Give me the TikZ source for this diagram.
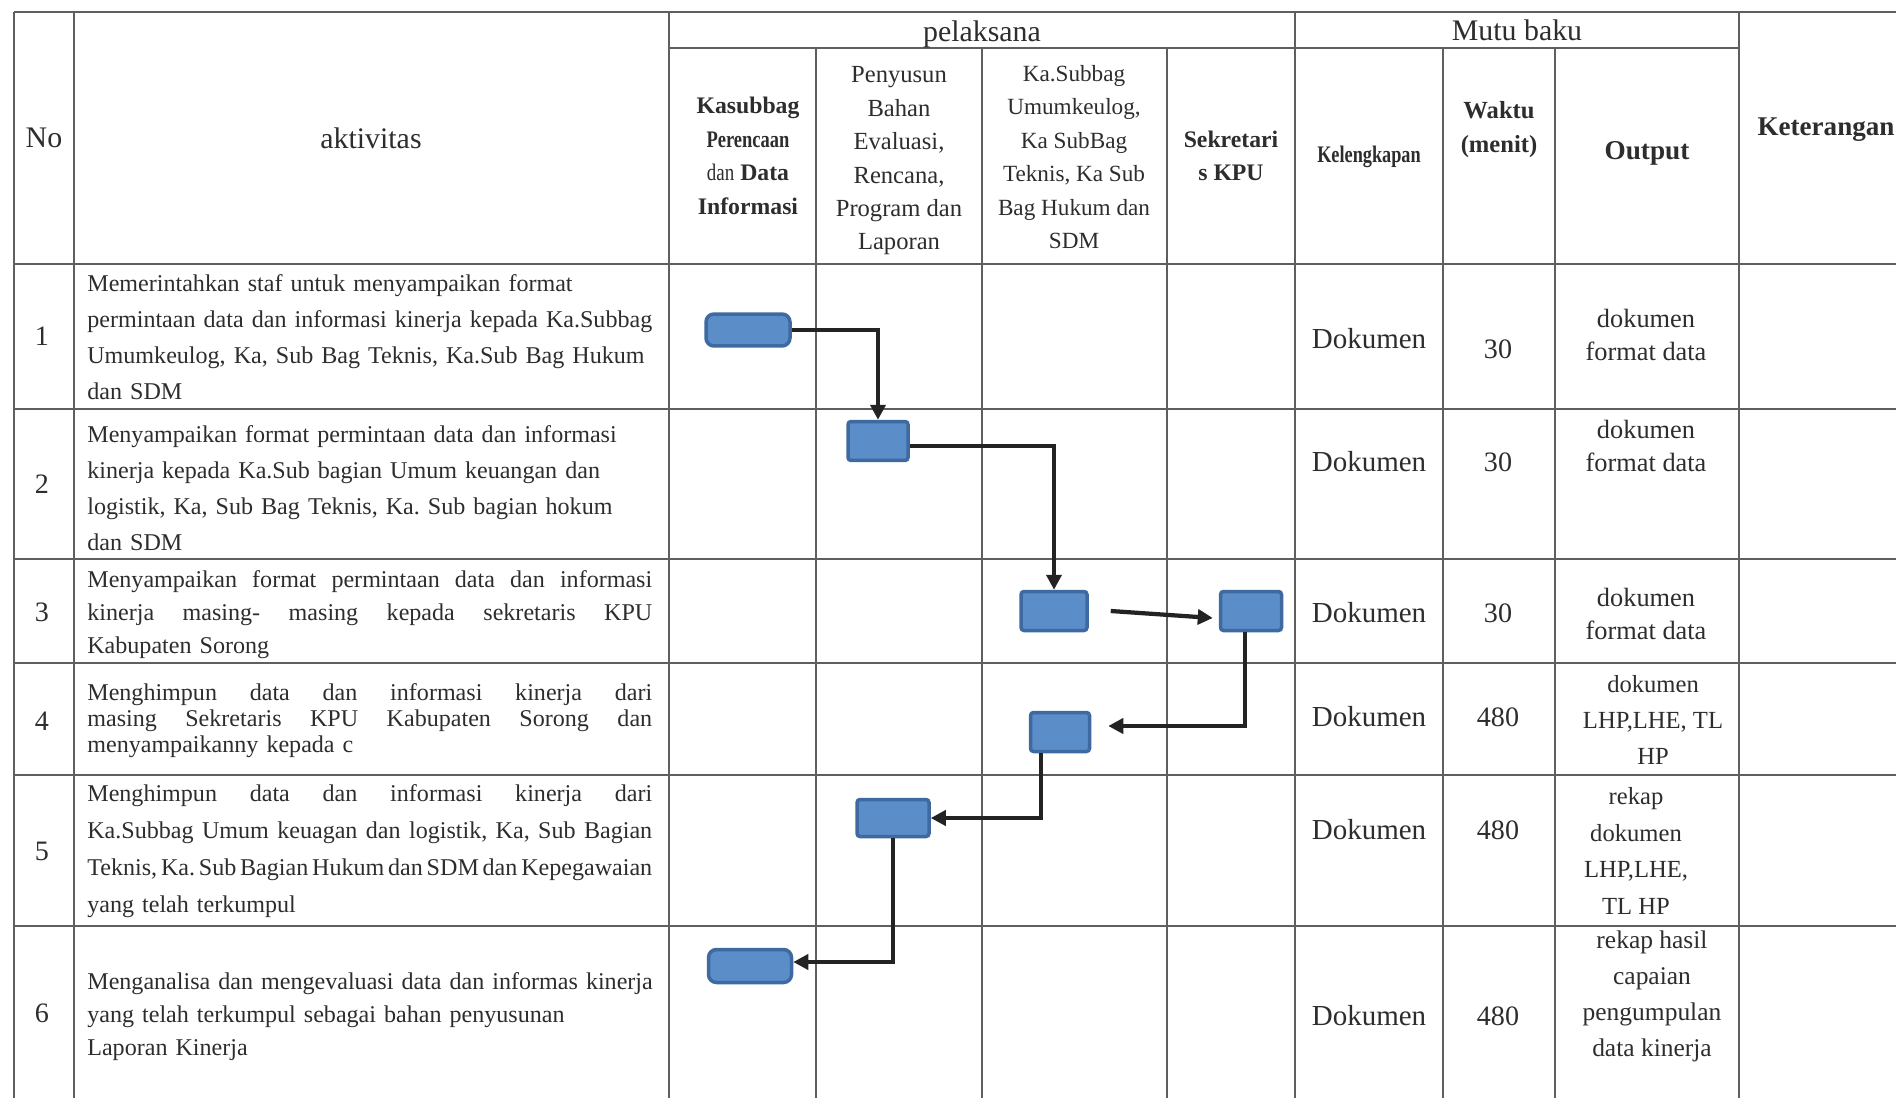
\documentclass[tikz,border=0pt]{standalone}
\usepackage{fontspec}
\setmainfont{Liberation Serif}
\usetikzlibrary{arrows.meta,calc}

\definecolor{isibiru}{RGB}{91,141,201}
\definecolor{tepibiru}{RGB}{62,106,160}
\definecolor{garisabu}{RGB}{95,95,95}
\definecolor{teks}{RGB}{45,45,45}
\definecolor{panahhitam}{RGB}{35,35,35}

\newcommand{\ukuran}[2]{\fontsize{#1}{#2}\selectfont}
\newcommand{\rataline}[1]{\makebox[11.3cm][s]{\spaceskip=.25em plus 1em minus .15em\relax #1}}
\newcommand{\sempit}[2]{\scalebox{#1}[1]{#2}}
\frenchspacing

\begin{document}
\begin{tikzpicture}[x=0.02cm,y=-0.02cm,
  garis/.style={draw=garisabu,line width=0.03cm},
  proses/.style={draw=tepibiru,fill=isibiru,line width=0.07cm,rounded corners=0.06cm,inner sep=0pt},
  panah/.style={draw=panahhitam,line width=0.085cm,-{Triangle[length=0.3cm,width=0.3cm]}},
  isi/.style={text=teks,inner sep=0pt,align=center},
  akt/.style={text=teks,inner sep=0pt,anchor=west,text width=11.8cm}]
\useasboundingbox (0,0) rectangle (1896,1098);

% garis tabel
\draw[garis] (14,12) -- (1896,12);
\draw[garis] (669,48) -- (1739,48);
\draw[garis] (14,264) -- (1896,264);
\draw[garis] (14,409) -- (1896,409);
\draw[garis] (14,559) -- (1896,559);
\draw[garis] (14,663) -- (1896,663);
\draw[garis] (14,775) -- (1896,775);
\draw[garis] (14,926) -- (1896,926);
%
\draw[garis] (14,12) -- (14,1098);
\draw[garis] (74,12) -- (74,1098);
\draw[garis] (669,12) -- (669,1098);
\draw[garis] (816,48) -- (816,1098);
\draw[garis] (982,48) -- (982,1098);
\draw[garis] (1167,48) -- (1167,1098);
\draw[garis] (1295,12) -- (1295,1098);
\draw[garis] (1443,48) -- (1443,1098);
\draw[garis] (1555,48) -- (1555,1098);
\draw[garis] (1739,12) -- (1739,1098);

% kepala tabel
\node[isi,font=\ukuran{17}{20}] (hno) at (44,138) {No};
\node[isi,font=\ukuran{17}{20}] (hakt) at (371,138) {aktivitas};
\node[isi,font=\ukuran{17}{20}] (hpel) at (982,34) {pelaksana};
\node[isi,font=\ukuran{17}{20}] (hmutu) at (1517,30) {Mutu baku};
\node[isi,font=\ukuran{13.5}{19.2}] (hkas) at (748,156)
  {\textbf{Kasubbag}\\\sempit{0.78}{\textbf{Perencaan}}\\\sempit{0.8}{dan} \textbf{Data}\\\textbf{Informasi}};
\node[isi,font=\ukuran{14}{19}] (hpen) at (899,161)
  {Penyusun\\Bahan\\Evaluasi,\\Rencana,\\Program dan\\Laporan};
\node[isi,font=\ukuran{13.2}{19}] (hsub) at (1074,157)
  {Ka.Subbag\\Umumkeulog,\\Ka SubBag\\Teknis, Ka Sub\\Bag Hukum dan\\SDM};
\node[isi,font=\bfseries\ukuran{13.5}{19}] (hsek) at (1231,156) {Sekretari\\s KPU};
\node[isi,font=\bfseries\ukuran{13.5}{19}] (hkel) at (1369,157) {\sempit{0.77}{Kelengkapan}};
\node[isi,font=\bfseries\ukuran{14}{19.3}] (hwak) at (1499,130) {Waktu\\(menit)};
\node[isi,font=\bfseries\ukuran{15.5}{19}] (hout) at (1647,153) {Output};
\node[isi,font=\bfseries\ukuran{15.4}{19}] (hket) at (1826,130) {Keterangan};

% nomor
\node[isi,font=\ukuran{16}{19}] (no1) at (42,336) {1};
\node[isi,font=\ukuran{16}{19}] (no2) at (42,484) {2};
\node[isi,font=\ukuran{16}{19}] (no3) at (42,612) {3};
\node[isi,font=\ukuran{16}{19}] (no4) at (42,721) {4};
\node[isi,font=\ukuran{16}{19}] (no5) at (42,851) {5};
\node[isi,font=\ukuran{16}{19}] (no6) at (42,1013) {6};

% aktivitas
\node[akt,font=\ukuran{13.7}{20.4}] (akt1) at (87,337)
  {Memerintahkan staf untuk menyampaikan format\\
   \rataline{permintaan data dan informasi kinerja kepada Ka.Subbag}\\
   Umumkeulog, Ka, Sub Bag Teknis, Ka.Sub Bag Hukum\\
   dan SDM};
\node[akt,font=\ukuran{13.7}{20.4}] (akt2) at (87,488)
  {Menyampaikan format permintaan data dan informasi\\
   kinerja kepada Ka.Sub bagian Umum keuangan dan\\
   logistik, Ka, Sub Bag Teknis, Ka. Sub bagian hokum\\
   dan SDM};
\node[akt,font=\ukuran{13.7}{18.8}] (akt3) at (87,615)
  {\rataline{Menyampaikan format permintaan data dan informasi}\\
   \rataline{kinerja masing- masing kepada sekretaris KPU}\\
   Kabupaten Sorong};
\node[akt,font=\ukuran{13.7}{14.8}] (akt4) at (87,721)
  {\rataline{Menghimpun data dan informasi kinerja dari}\\
   \rataline{masing Sekretaris KPU Kabupaten Sorong dan}\\
   menyampaikanny kepada c};
\node[akt,font=\ukuran{13.7}{21}] (akt5) at (87,851)
  {\rataline{Menghimpun data dan informasi kinerja dari}\\
   \rataline{Ka.Subbag Umum keuagan dan logistik, Ka, Sub Bagian}\\
   \rataline{Teknis, Ka. Sub Bagian Hukum dan SDM dan Kepegawaian}\\
   yang telah terkumpul};
\node[akt,font=\ukuran{13.7}{18.8}] (akt6) at (87,1017)
  {Menganalisa dan mengevaluasi data dan informas kinerja\\
   yang telah terkumpul sebagai bahan penyusunan\\
   Laporan Kinerja};

% mutu baku
\node[isi,font=\ukuran{16.5}{19}] (kel1) at (1369,339) {Dokumen};
\node[isi,font=\ukuran{16.5}{19}] (kel2) at (1369,462) {Dokumen};
\node[isi,font=\ukuran{16.5}{19}] (kel3) at (1369,613) {Dokumen};
\node[isi,font=\ukuran{16.5}{19}] (kel4) at (1369,717) {Dokumen};
\node[isi,font=\ukuran{16.5}{19}] (kel5) at (1369,830) {Dokumen};
\node[isi,font=\ukuran{16.5}{19}] (kel6) at (1369,1016) {Dokumen};
%
\node[isi,font=\ukuran{16}{19}] (wak1) at (1498,349) {30};
\node[isi,font=\ukuran{16}{19}] (wak2) at (1498,462) {30};
\node[isi,font=\ukuran{16}{19}] (wak3) at (1498,613) {30};
\node[isi,font=\ukuran{16}{19}] (wak4) at (1498,717) {480};
\node[isi,font=\ukuran{16}{19}] (wak5) at (1498,830) {480};
\node[isi,font=\ukuran{16}{19}] (wak6) at (1498,1016) {480};
%
\node[isi,font=\ukuran{15}{18.8}] (out1) at (1646,335) {dokumen\\format data};
\node[isi,font=\ukuran{15}{18.8}] (out2) at (1646,446) {dokumen\\format data};
\node[isi,font=\ukuran{15}{18.8}] (out3) at (1646,614) {dokumen\\format data};
\node[isi,font=\ukuran{14}{20.5}] (out4) at (1653,720) {dokumen\\LHP,LHE, TL\\HP};
\node[isi,font=\ukuran{14}{21}] (out5) at (1636,851) {rekap\\dokumen\\LHP,LHE,\\TL HP};
\node[isi,font=\ukuran{14.5}{20.5}] (out6) at (1652,996) {rekap hasil\\capaian\\pengumpulan\\data kinerja};

% alur proses
\node[proses,minimum width=1.68cm,minimum height=0.64cm,rounded corners=0.16cm] (k1) at (748,330) {};
\node[proses,minimum width=1.2cm,minimum height=0.78cm] (k2) at (878,441) {};
\node[proses,minimum width=1.32cm,minimum height=0.78cm] (k3) at (1054,611) {};
\node[proses,minimum width=1.22cm,minimum height=0.78cm] (k4) at (1251,611) {};
\node[proses,minimum width=1.18cm,minimum height=0.78cm] (k5) at (1060,732) {};
\node[proses,minimum width=1.44cm,minimum height=0.74cm] (k6) at (893,818) {};
\node[proses,minimum width=1.66cm,minimum height=0.66cm,rounded corners=0.16cm] (k7) at (750,966) {};

\draw[panah] (k1.east) -| (k2.north);
\draw[panah] ($(k2.east)+(0,5)$) -| (k3.north);
\draw[panah] ($(k3.east)+(22,0)$) -- ($(k4.west)+(-6,7)$);
\draw[panah] ($(k4.south)+(-6,0)$) |- ($(k5.east)+(17,-6)$);
\draw[panah] ($(k5.south)+(-19,0)$) |- (k6.east);
\draw[panah] (k6.south) |- ($(k7.east)+(0,-4)$);
\end{tikzpicture}
\end{document}
